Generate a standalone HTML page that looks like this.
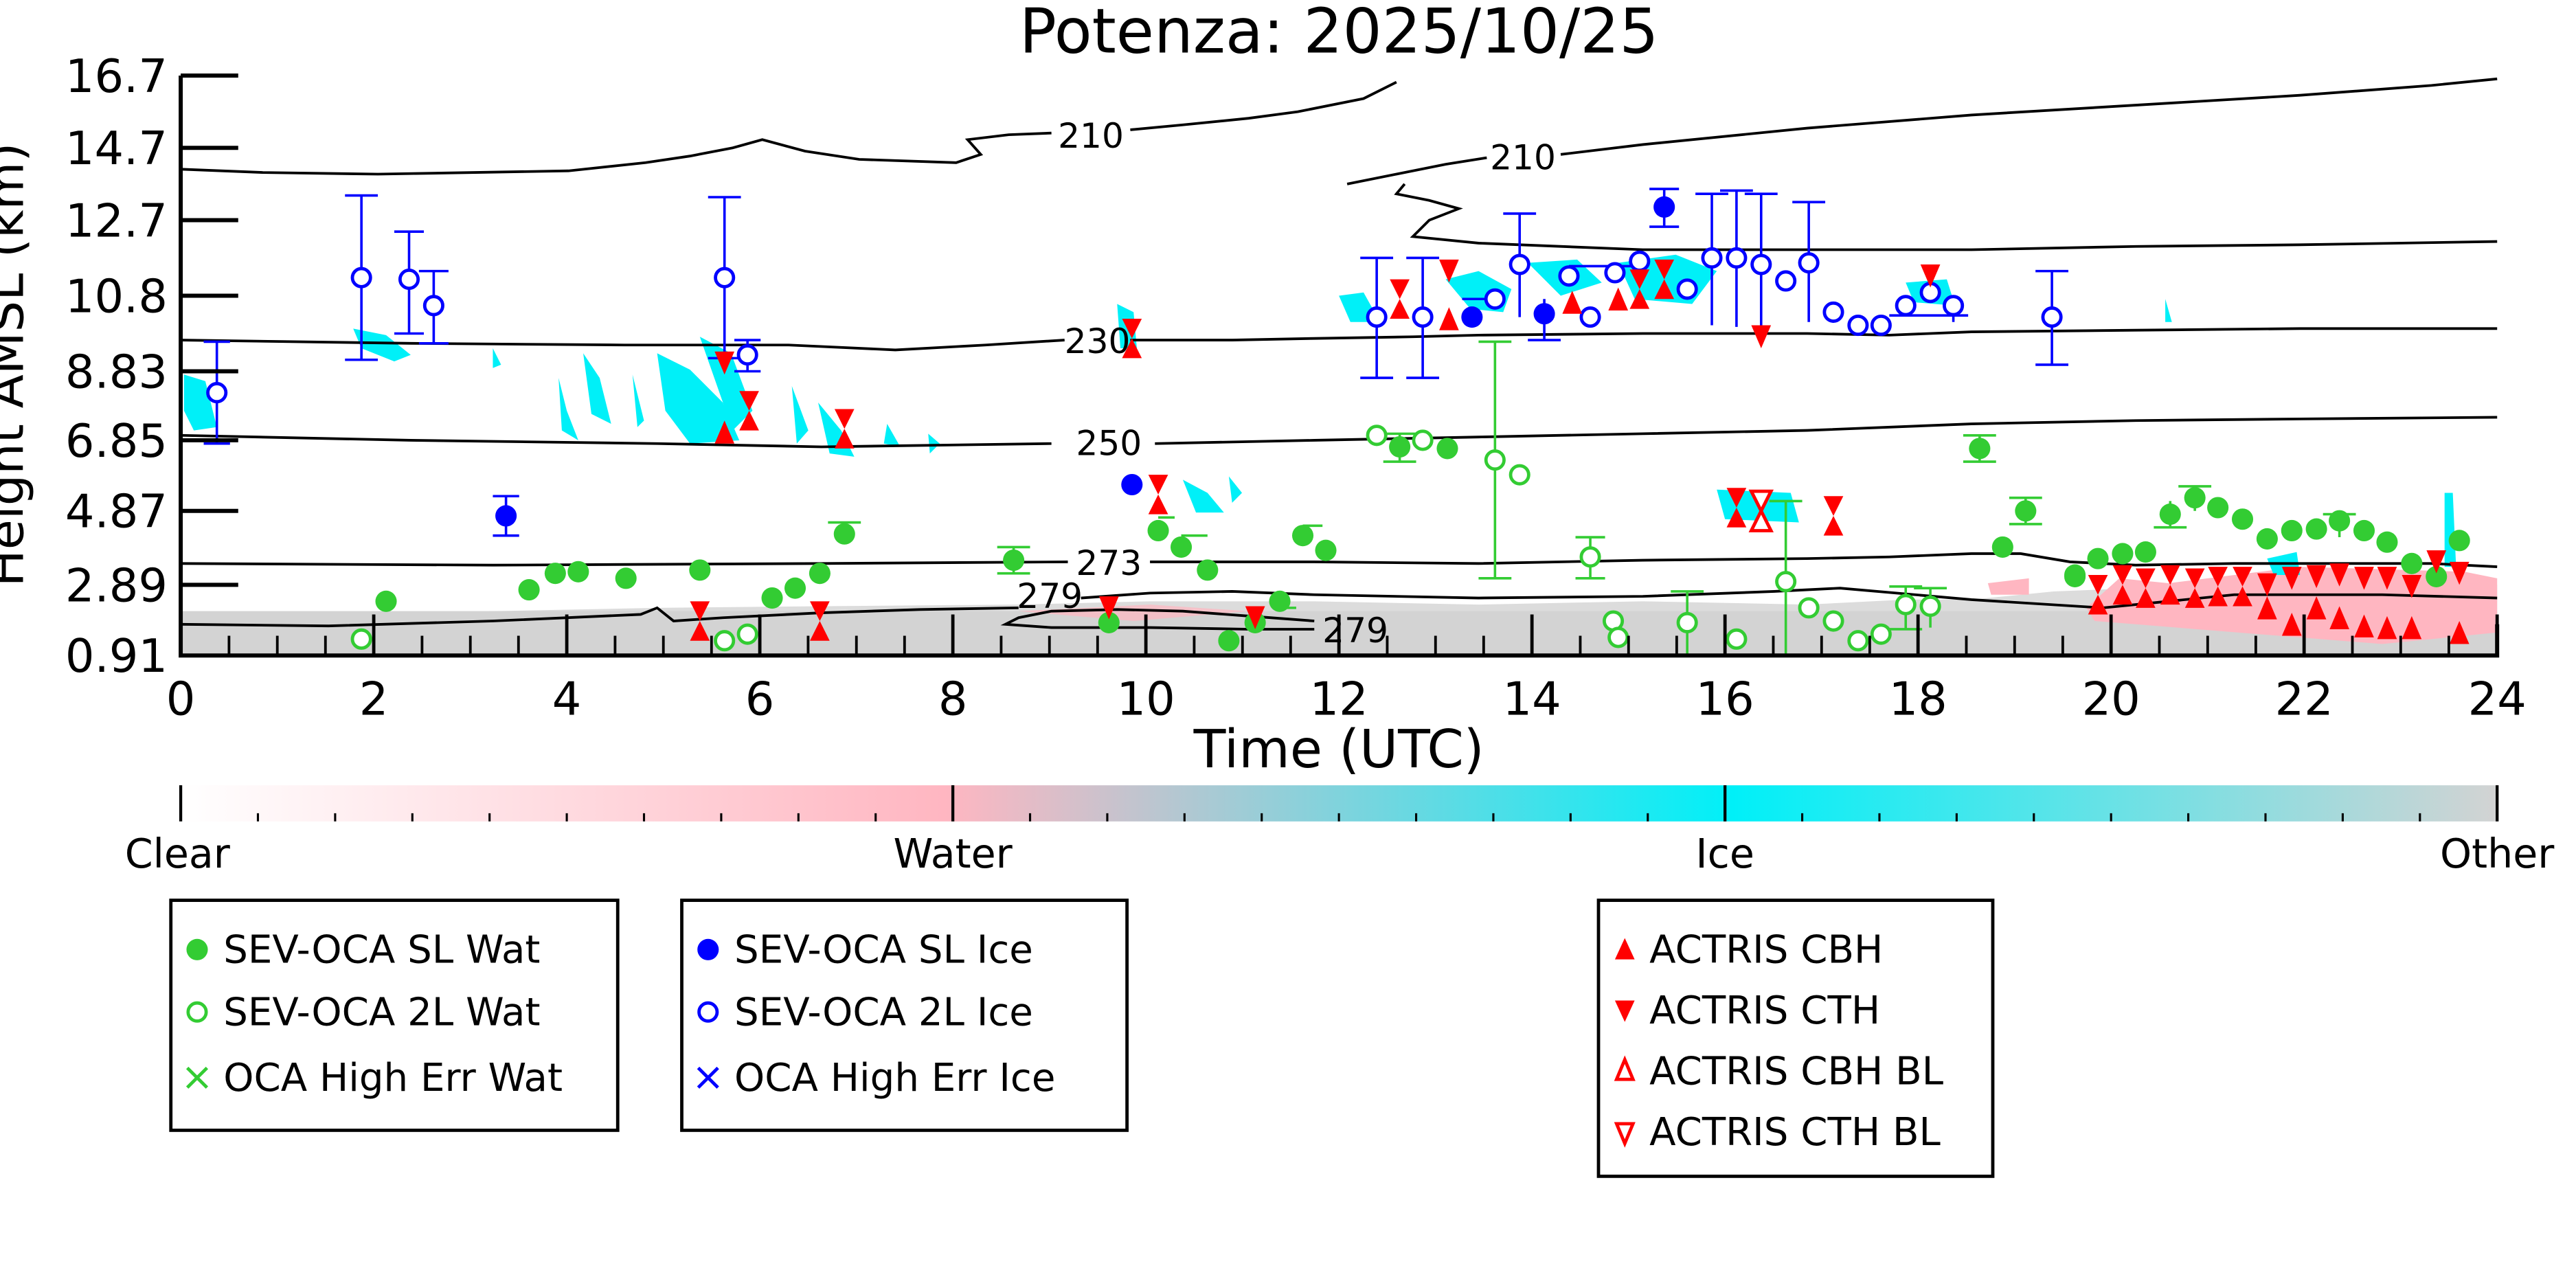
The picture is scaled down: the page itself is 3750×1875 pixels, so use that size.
<!DOCTYPE html>
<html><head><meta charset="utf-8"><style>
html,body{margin:0;padding:0;background:#fff;}
svg{display:block;}
text{font-family:"DejaVu Sans","Liberation Sans",sans-serif;}
</style></head><body>
<svg width="3750" height="1875" viewBox="0 0 1568 784" preserveAspectRatio="none" xmlns="http://www.w3.org/2000/svg">
<defs>
<linearGradient id="cb" x1="0" x2="1" y1="0" y2="0">
<stop offset="0" stop-color="#ffffff"/><stop offset="0.33" stop-color="#ffb6c1"/><stop offset="0.67" stop-color="#00f0f8"/><stop offset="1" stop-color="#d3d3d3"/>
</linearGradient>
<symbol id="gf" overflow="visible"><circle r="6.5" fill="#33cc33"/></symbol>
<symbol id="go" overflow="visible"><circle r="5.5" fill="#fff" stroke="#33cc33" stroke-width="2"/></symbol>
<symbol id="bf" overflow="visible"><circle r="6.5" fill="#0000ff"/></symbol>
<symbol id="bo" overflow="visible"><circle r="5.5" fill="#fff" stroke="#0000ff" stroke-width="2"/></symbol>
<symbol id="tu" overflow="visible"><path d="M0,-9 L6,5 L-6,5Z" fill="#ff0000"/></symbol>
<symbol id="td" overflow="visible"><path d="M0,9 L6,-5 L-6,-5Z" fill="#ff0000"/></symbol>
<symbol id="bt" overflow="visible"><path d="M-6,-12 L6,-12 L0,0 L6,12 L-6,12 L0,0Z" fill="#ff0000"/></symbol>
</defs>
<rect width="1568" height="784" fill="#fff"/>
<text x="815" y="32" font-size="37.5" text-anchor="middle">Potenza: 2025/10/25</text>

<!-- ground grey -->
<path d="M110,377 L200,375 L300,372 L400,370 L500,369 L620,368 L700,366 L800,366 L900,368 L1000,366 L1100,368 L1160,365 L1200,365 L1250,360 L1300,358 L1400,356 L1520,356 L1520,399 L110,399Z" fill="#dcdcdc"/>
<path d="M110,372 L1520,372 L1520,399 L110,399Z" fill="#d3d3d3"/>
<path d="M1270,370 L1290,352 L1320,355 L1400,345 L1500,348 L1520,352 L1520,385 L1450,392 L1300,380 L1275,378Z" fill="#ffb6c1"/>
<path d="M1210,355 L1235,352 L1235,362 L1212,362Z" fill="#ffb6c1"/>
<path d="M620,372 L700,368 L760,372 L690,378Z" fill="#ffb6c1" opacity="0.7"/>

<!-- cyan ice -->
<g fill="#00f0f8">
<path d="M112,228 L125,232 L132,260 L118,262 L112,250Z"/>
<path d="M215,200 L235,204 L250,216 L240,220 L220,212Z"/>
<path d="M300,212 L305,222 L300,224Z"/>
<path d="M340,230 L345,250 L352,268 L342,262Z"/>
<path d="M355,215 L365,230 L372,258 L360,252Z"/>
<path d="M385,228 L392,256 L388,260Z"/>
<path d="M400,215 L420,225 L440,245 L450,268 L420,270 L405,250Z"/>
<path d="M426,205 L445,215 L458,250 L446,262Z"/>
<path d="M482,235 L492,262 L485,270Z"/>
<path d="M498,245 L512,262 L520,278 L505,276Z"/>
<path d="M540,258 L548,272 L538,270Z"/>
<path d="M565,264 L572,270 L566,276Z"/>
<path d="M680,185 L690,190 L692,212 L682,212Z"/>
<path d="M720,292 L735,300 L745,312 L728,312Z"/>
<path d="M748,290 L756,300 L750,306Z"/>
<path d="M815,180 L830,178 L840,196 L822,196Z"/>
<path d="M880,170 L900,165 L920,176 L915,190 L895,188Z"/>
<path d="M930,160 L960,158 L975,172 L950,180Z"/>
<path d="M985,160 L1020,155 L1045,165 L1030,185 L995,182Z"/>
<path d="M1045,298 L1090,300 L1095,318 L1050,316Z"/>
<path d="M1160,172 L1185,170 L1190,186 L1165,184Z"/>
<path d="M1318,182 L1322,196 L1318,196Z"/>
<path d="M1488,300 L1493,300 L1495,345 L1488,345Z"/>
<path d="M1380,340 L1398,336 L1400,350 L1384,350Z"/>
</g>

<!-- contours -->
<g fill="none" stroke="#000" stroke-width="1.6">
<path d="M110,103 L160,105 L230,106 L346,104 L393,99 L420,95 L446,90 L464,85 L490,92 L523,97 L582,99 L597,94 L589,85 L614,82 L640,81"/>
<path d="M688,79 L720,76 L760,72 L790,68 L830,60 L850,50"/>
<path d="M820,112 L850,106 L880,100 L905,96"/>
<path d="M950,94 L1000,88 L1100,78 L1200,70 L1300,64 L1400,58 L1480,52 L1520,48"/>
<path d="M855,112 L850,118 L870,122 L888,127 L870,134 L860,144 L900,148 L1000,152 L1100,152 L1200,152 L1300,150 L1400,149 L1520,147"/>
<path d="M110,207 L250,209 L380,210 L480,210 L545,213 L600,210 L648,207"/>
<path d="M688,207 L750,207 L800,206 L860,205 L900,204 L1000,203 L1100,203 L1150,204 L1200,202 L1300,201 L1400,200 L1520,200"/>
<path d="M110,265 L250,268 L400,270 L500,272 L640,270"/>
<path d="M703,270 L800,268 L900,266 L1000,264 L1100,262 L1200,258 L1300,256 L1400,255 L1520,254"/>
<path d="M110,343 L300,344 L500,343 L650,342"/>
<path d="M700,342 L800,342 L900,343 L1000,341 L1100,340 L1150,339 L1200,337 L1230,337 L1260,342 L1300,344 L1360,343 L1420,343 L1480,343 L1520,345"/>
<path d="M110,380 L200,381 L300,378 L390,374 L400,370 L410,378 L440,376 L500,373 L560,371 L620,370"/>
<path d="M658,364 L700,361 L750,360 L800,362 L900,364 L1000,363 L1080,360 L1120,358 L1200,365 L1280,370 L1320,366 L1360,362 L1450,362 L1520,364"/>
<path d="M800,378 L760,375 L720,372 L680,371 L640,372 L620,376 L612,380 L640,382 L700,382 L760,383 L800,383"/>
</g>
<g font-size="21" text-anchor="middle">
<text x="664" y="90">210</text><text x="927" y="103">210</text>
<text x="668" y="215">230</text><text x="675" y="277">250</text>
<text x="675" y="350">273</text><text x="639" y="370">279</text><text x="825" y="391">279</text>
</g>

<!-- error bars -->
<g stroke="#0000ff" stroke-width="1.5">
<path d="M132,208 V270 M124,208 H140 M124,270 H140"/>
<path d="M220,119 V219 M210,119 H230 M210,219 H230"/>
<path d="M249,141 V203 M240,141 H258 M240,203 H258"/>
<path d="M264,165 V209 M255,165 H273 M255,209 H273"/>
<path d="M441,120 V218 M431,120 H451 M431,218 H451"/>
<path d="M455,207 V226 M447,207 H463 M447,226 H463"/>
<path d="M308,302 V326 M300,302 H316 M300,326 H316"/>
<path d="M838,157 V230 M828,157 H848 M828,230 H848"/>
<path d="M866,157 V230 M856,157 H876 M856,230 H876"/>
<path d="M925,130 V193 M915,130 H935"/>
<path d="M940,182 V207 M930,207 H950"/>
<path d="M1013,115 V138 M1004,115 H1022 M1004,138 H1022"/>
<path d="M1042,118 V198 M1032,118 H1052"/>
<path d="M1057,116 V199 M1047,116 H1067"/>
<path d="M1072,118 V206 M1062,118 H1082"/>
<path d="M1101,123 V196 M1091,123 H1111"/>
<path d="M1249,165 V222 M1239,165 H1259 M1239,222 H1259"/>
<path d="M1160,180 V192 M1150,192 H1198 M1189,180 V196"/>
<path d="M890,182 H905 M955,162 H1000"/>
</g>
<g stroke="#33cc33" stroke-width="1.5">
<path d="M910,208 V352 M900,208 H920 M900,352 H920"/>
<path d="M968,327 V352 M959,327 H977 M959,352 H977"/>
<path d="M1087,305 V399 M1077,305 H1097 M1077,399 H1097"/>
<path d="M1027,360 V399 M1017,360 H1037"/>
<path d="M1160,357 V383 M1150,357 H1170 M1150,383 H1170"/>
<path d="M1175,358 V382 M1165,358 H1185"/>
<path d="M617,333 V349 M607,333 H627 M607,349 H627"/>
<path d="M1205,265 V281 M1195,265 H1215 M1195,281 H1215"/>
<path d="M1233,303 V319 M1223,303 H1243 M1223,319 H1243"/>
<path d="M1336,296 V311 M1326,296 H1346"/>
<path d="M1424,313 V327 M1414,313 H1434"/>
<path d="M1321,305 V321 M1311,321 H1331"/>
<path d="M852,264 V281 M842,264 H862 M842,281 H862"/>
<path d="M514,318 H524 M504,318 H514 M779,370 H789"/>
<path d="M705,315 H715 M719,326 H735 M793,320 H805"/>
</g>

<!-- green filled -->
<g>
<use href="#gf" x="235" y="366"/><use href="#gf" x="322" y="359"/><use href="#gf" x="338" y="349"/><use href="#gf" x="352" y="348"/><use href="#gf" x="381" y="352"/><use href="#gf" x="426" y="347"/><use href="#gf" x="470" y="364"/><use href="#gf" x="484" y="358"/><use href="#gf" x="499" y="349"/><use href="#gf" x="514" y="325"/><use href="#gf" x="617" y="341"/><use href="#gf" x="705" y="323"/><use href="#gf" x="719" y="333"/><use href="#gf" x="735" y="347"/><use href="#gf" x="779" y="366"/><use href="#gf" x="793" y="326"/><use href="#gf" x="807" y="335"/><use href="#gf" x="852" y="272"/><use href="#gf" x="881" y="273"/><use href="#gf" x="1205" y="273"/><use href="#gf" x="1219" y="333"/><use href="#gf" x="1233" y="311"/><use href="#gf" x="1263" y="350"/><use href="#gf" x="1277" y="340"/><use href="#gf" x="1292" y="337"/><use href="#gf" x="1306" y="336"/><use href="#gf" x="1321" y="313"/><use href="#gf" x="1336" y="303"/><use href="#gf" x="1350" y="309"/><use href="#gf" x="1365" y="316"/><use href="#gf" x="1380" y="328"/><use href="#gf" x="1395" y="323"/><use href="#gf" x="1410" y="322"/><use href="#gf" x="1424" y="317"/><use href="#gf" x="1439" y="323"/><use href="#gf" x="1453" y="330"/><use href="#gf" x="1468" y="343"/><use href="#gf" x="1483" y="351"/><use href="#gf" x="1497" y="329"/><use href="#gf" x="748" y="390"/><use href="#gf" x="675" y="379"/><use href="#gf" x="764" y="379"/><use href="#gf" x="1263" y="351"/>
</g>
<g>
<use href="#go" x="220" y="389"/><use href="#go" x="441" y="390"/><use href="#go" x="455" y="386"/><use href="#go" x="838" y="265"/><use href="#go" x="866" y="268"/><use href="#go" x="910" y="280"/><use href="#go" x="925" y="289"/><use href="#go" x="968" y="339"/><use href="#go" x="982" y="378"/><use href="#go" x="1027" y="379"/><use href="#go" x="1057" y="389"/><use href="#go" x="1087" y="354"/><use href="#go" x="1101" y="370"/><use href="#go" x="1116" y="378"/><use href="#go" x="1131" y="390"/><use href="#go" x="1145" y="386"/><use href="#go" x="1160" y="368"/><use href="#go" x="1175" y="369"/><use href="#go" x="985" y="388"/>
</g>
<g>
<use href="#bf" x="308" y="314"/><use href="#bf" x="689" y="295"/><use href="#bf" x="896" y="193"/><use href="#bf" x="940" y="191"/><use href="#bf" x="1013" y="126"/>
</g>
<g>
<use href="#bo" x="132" y="239"/><use href="#bo" x="220" y="169"/><use href="#bo" x="249" y="170"/><use href="#bo" x="264" y="186"/><use href="#bo" x="441" y="169"/><use href="#bo" x="455" y="216"/><use href="#bo" x="838" y="193"/><use href="#bo" x="866" y="193"/><use href="#bo" x="910" y="182"/><use href="#bo" x="925" y="161"/><use href="#bo" x="955" y="168"/><use href="#bo" x="968" y="193"/><use href="#bo" x="983" y="166"/><use href="#bo" x="998" y="159"/><use href="#bo" x="1027" y="176"/><use href="#bo" x="1042" y="157"/><use href="#bo" x="1057" y="157"/><use href="#bo" x="1072" y="161"/><use href="#bo" x="1087" y="171"/><use href="#bo" x="1101" y="160"/><use href="#bo" x="1116" y="190"/><use href="#bo" x="1131" y="198"/><use href="#bo" x="1145" y="198"/><use href="#bo" x="1160" y="186"/><use href="#bo" x="1175" y="178"/><use href="#bo" x="1189" y="186"/><use href="#bo" x="1249" y="193"/>
</g>

<!-- red triangles -->
<g>
<use href="#td" x="441" y="219"/><use href="#tu" x="441" y="265"/><use href="#bt" x="456" y="250"/><use href="#bt" x="514" y="261"/><use href="#bt" x="689" y="206"/><use href="#bt" x="705" y="301"/><use href="#bt" x="852" y="182"/><use href="#td" x="882" y="163"/><use href="#tu" x="882" y="196"/><use href="#tu" x="957" y="186"/><use href="#tu" x="985" y="184"/><use href="#bt" x="998" y="176"/><use href="#bt" x="1013" y="170"/><use href="#td" x="1072" y="203"/><use href="#bt" x="1057" y="309"/><use href="#bt" x="1116" y="314"/><use href="#bt" x="426" y="378"/><use href="#bt" x="499" y="378"/><use href="#td" x="675" y="368"/><use href="#td" x="764" y="374"/><use href="#td" x="1175" y="166"/>
<use href="#bt" x="1277" y="362"/><use href="#bt" x="1292" y="356"/><use href="#bt" x="1306" y="358"/><use href="#bt" x="1321" y="356"/><use href="#bt" x="1336" y="358"/><use href="#bt" x="1350" y="357"/><use href="#bt" x="1365" y="357"/>
<use href="#td" x="1380" y="354"/><use href="#tu" x="1380" y="372"/><use href="#td" x="1395" y="350"/><use href="#tu" x="1395" y="382"/><use href="#td" x="1410" y="349"/><use href="#tu" x="1410" y="372"/><use href="#td" x="1424" y="348"/><use href="#tu" x="1424" y="378"/><use href="#td" x="1439" y="350"/><use href="#tu" x="1439" y="383"/><use href="#td" x="1453" y="350"/><use href="#tu" x="1453" y="384"/><use href="#td" x="1468" y="355"/><use href="#tu" x="1468" y="384"/><use href="#td" x="1483" y="340"/><use href="#td" x="1497" y="347"/><use href="#tu" x="1497" y="387"/>
</g>
<path d="M1066,299 H1078 L1072,311 L1078,323 H1066 L1072,311Z" fill="#fff" stroke="#ff0000" stroke-width="2"/>

<!-- axes -->
<g stroke="#000" fill="none">
<path d="M110,46 V399 H1520 V380" stroke-width="2.5"/>
<path d="M110,46 H145 M110,90 H145 M110,134 H145 M110,180 H145 M110,226 H145 M110,268 H145 M110,311 H145 M110,356 H145" stroke-width="2.5"/>
<path d="M110,399 V374 M227.5,399 V374 M345,399 V374 M462.5,399 V374 M580,399 V374 M697.5,399 V374 M815,399 V374 M932.5,399 V374 M1050,399 V374 M1167.5,399 V374 M1285,399 V374 M1402.5,399 V374 M1520,399 V374" stroke-width="2"/>
<path d="M139.4,399 V387 M168.8,399 V387 M198.1,399 V387 M256.9,399 V387 M286.3,399 V387 M315.6,399 V387 M374.4,399 V387 M403.8,399 V387 M433.1,399 V387 M491.9,399 V387 M521.3,399 V387 M550.6,399 V387 M609.4,399 V387 M638.8,399 V387 M668.1,399 V387 M726.9,399 V387 M756.3,399 V387 M785.6,399 V387 M844.4,399 V387 M873.8,399 V387 M903.1,399 V387 M961.9,399 V387 M991.3,399 V387 M1020.6,399 V387 M1079.4,399 V387 M1108.8,399 V387 M1138.1,399 V387 M1196.9,399 V387 M1226.3,399 V387 M1255.6,399 V387 M1314.4,399 V387 M1343.8,399 V387 M1373.1,399 V387 M1431.9,399 V387 M1461.3,399 V387 M1490.6,399 V387" stroke-width="1.6"/>
</g>
<g font-size="28" text-anchor="end">
<text x="102" y="56">16.7</text><text x="102" y="100">14.7</text><text x="102" y="144">12.7</text><text x="102" y="190">10.8</text><text x="102" y="236">8.83</text><text x="102" y="278">6.85</text><text x="102" y="321">4.87</text><text x="102" y="366">2.89</text><text x="102" y="409">0.91</text>
</g>
<g font-size="28" text-anchor="middle">
<text x="110" y="435">0</text><text x="227.5" y="435">2</text><text x="345" y="435">4</text><text x="462.5" y="435">6</text><text x="580" y="435">8</text><text x="697.5" y="435">10</text><text x="815" y="435">12</text><text x="932.5" y="435">14</text><text x="1050" y="435">16</text><text x="1167.5" y="435">18</text><text x="1285" y="435">20</text><text x="1402.5" y="435">22</text><text x="1520" y="435">24</text>
</g>
<text x="815" y="467" font-size="32" text-anchor="middle">Time (UTC)</text>
<text transform="translate(14,222) rotate(-90)" font-size="30" text-anchor="middle">Height AMSL (km)</text>

<!-- colorbar -->
<rect x="110" y="478" width="1410" height="22" fill="url(#cb)"/>
<g stroke="#000" stroke-width="1.3">
<path d="M110,478 V500 M580,478 V500 M1050,478 V500 M1520,478 V500" stroke-width="1.8"/>
<path d="M157,495 V500 M204,495 V500 M251,495 V500 M298,495 V500 M345,495 V500 M392,495 V500 M439,495 V500 M486,495 V500 M533,495 V500 M627,495 V500 M674,495 V500 M721,495 V500 M768,495 V500 M815,495 V500 M862,495 V500 M909,495 V500 M956,495 V500 M1003,495 V500 M1097,495 V500 M1144,495 V500 M1191,495 V500 M1238,495 V500 M1285,495 V500 M1332,495 V500 M1379,495 V500 M1426,495 V500 M1473,495 V500"/>
</g>
<g font-size="24.5" text-anchor="middle">
<text x="108" y="528">Clear</text><text x="580" y="528">Water</text><text x="1050" y="528">Ice</text><text x="1520" y="528">Other</text>
</g>

<!-- legends -->
<g fill="#fff" stroke="#000" stroke-width="2">
<rect x="104" y="548" width="272" height="140"/>
<rect x="415" y="548" width="271" height="140"/>
<rect x="973" y="548" width="240" height="168"/>
</g>
<g font-size="23.5">
<circle cx="120" cy="578" r="6.5" fill="#33cc33"/><text x="136" y="586">SEV-OCA SL Wat</text>
<circle cx="120" cy="616" r="5.5" fill="#fff" stroke="#33cc33" stroke-width="2"/><text x="136" y="624">SEV-OCA 2L Wat</text>
<path d="M114,650 L126,662 M126,650 L114,662" stroke="#33cc33" stroke-width="2"/><text x="136" y="664">OCA High Err Wat</text>
<circle cx="431" cy="578" r="6.5" fill="#0000ff"/><text x="447" y="586">SEV-OCA SL Ice</text>
<circle cx="431" cy="616" r="5.5" fill="#fff" stroke="#0000ff" stroke-width="2"/><text x="447" y="624">SEV-OCA 2L Ice</text>
<path d="M425,650 L437,662 M437,650 L425,662" stroke="#0000ff" stroke-width="2"/><text x="447" y="664">OCA High Err Ice</text>
<path d="M989,571 L995,584 L983,584Z" fill="#ff0000"/><text x="1004" y="586">ACTRIS CBH</text>
<path d="M989,622 L995,609 L983,609Z" fill="#ff0000"/><text x="1004" y="623">ACTRIS CTH</text>
<path d="M989,645 L994,657 L984,657Z" fill="#fff" stroke="#ff0000" stroke-width="2"/><text x="1004" y="660">ACTRIS CBH BL</text>
<path d="M989,696 L994,684 L984,684Z" fill="#fff" stroke="#ff0000" stroke-width="2"/><text x="1004" y="697">ACTRIS CTH BL</text>
</g>
</svg>
</body></html>
